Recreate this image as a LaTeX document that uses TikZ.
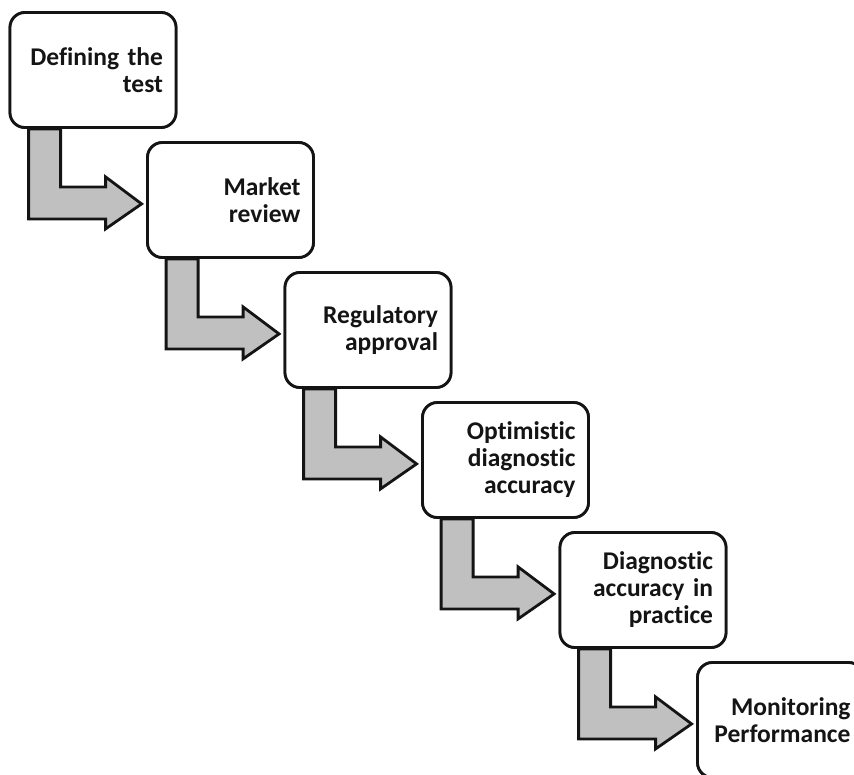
\documentclass[tikz,border=0pt]{standalone}
\usepackage{fontspec}
\setmainfont{Carlito}[Ligatures=NoCommon]
\usetikzlibrary{calc}
\definecolor{arrowgray}{RGB}{192,192,192}
\definecolor{ink}{RGB}{20,20,20}
\tikzset{
  stage/.style={draw=ink, line width=2.8pt, rounded corners=15pt, fill=white,
    minimum width=166pt, minimum height=115pt, text width=140pt, inner xsep=13pt,
    align=right, font=\bfseries\fontsize{25.5}{27}\selectfont, text=ink},
  bentarrow/.style={draw=ink, line width=2.8pt, fill=arrowgray, line join=miter}
}
\newcommand{\bentflow}[1]{%
  \draw[bentarrow] ($(#1.south west)+(20,0)$) -- ++(0,-90) -- ++(77,0) -- ++(0,-10)
    -- ++(36,25) -- ++(-36,27) -- ++(0,-10) -- ++(-45,0) -- ++(0,58) -- cycle;}
\begin{document}
\begin{tikzpicture}[x=1pt,y=1pt]
\useasboundingbox (0,0) rectangle (854,-774);
\begin{scope}
\clip (0,0) rectangle (854,-774);
\node[stage] (s1) at (93,-70) {};
\node[stage] (s2) at (230.5,-200) {};
\node[stage] (s3) at (368,-330) {};
\node[stage] (s4) at (505.5,-460) {};
\node[stage] (s5) at (643,-590) {};
\node[stage] (s6) at (780.5,-720) {};
\bentflow{s1}
\bentflow{s2}
\bentflow{s3}
\bentflow{s4}
\bentflow{s5}
\node[stage] at (s1) {Defining the\\test};
\node[stage] at (s2) {Market\\review};
\node[stage] at (s3) {Regulatory\\approval};
\node[stage] at (s4) {Optimistic\\diagnostic\\accuracy};
\node[stage] at (s5) {Diagnostic\\accuracy in\\practice};
\node[stage] at (s6) {Monitoring\\Performance};
\end{scope}
\end{tikzpicture}
\end{document}
